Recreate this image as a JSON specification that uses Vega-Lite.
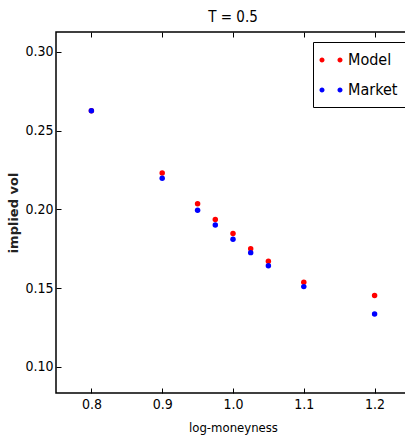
{
  "$schema": "https://vega.github.io/schema/vega-lite/v6.json",
  "autosize": "none",
  "width": 354,
  "height": 361,
  "padding": {"left": 56, "top": 32, "right": 0, "bottom": 46},
  "background": "white",
  "title": {"text": "T = 0.5", "font": "DejaVu Sans Condensed", "fontSize": 15, "fontWeight": "normal", "color": "black", "offset": 7},
  "config": {
    "view": {"stroke": "black", "strokeWidth": 1.5},
    "font": "DejaVu Sans Condensed",
    "axis": {"grid": false, "domain": false, "tickSize": -5, "tickWidth": 1, "tickColor": "black", "labelColor": "black", "titleColor": "black", "labelFont": "DejaVu Sans Condensed", "titleFont": "DejaVu Sans Condensed"}
  },
  "data": {"values": [
    {"x": 0.8, "v": 0.2627, "s": "Model"},
    {"x": 0.9, "v": 0.2231, "s": "Model"},
    {"x": 0.95, "v": 0.2036, "s": "Model"},
    {"x": 0.975, "v": 0.1935, "s": "Model"},
    {"x": 1.0, "v": 0.1846, "s": "Model"},
    {"x": 1.025, "v": 0.1750, "s": "Model"},
    {"x": 1.05, "v": 0.1670, "s": "Model"},
    {"x": 1.1, "v": 0.1537, "s": "Model"},
    {"x": 1.2, "v": 0.1452, "s": "Model"},
    {"x": 0.8, "v": 0.2627, "s": "Market"},
    {"x": 0.9, "v": 0.2197, "s": "Market"},
    {"x": 0.95, "v": 0.1994, "s": "Market"},
    {"x": 0.975, "v": 0.1901, "s": "Market"},
    {"x": 1.0, "v": 0.1810, "s": "Market"},
    {"x": 1.025, "v": 0.1725, "s": "Market"},
    {"x": 1.05, "v": 0.1642, "s": "Market"},
    {"x": 1.1, "v": 0.1509, "s": "Market"},
    {"x": 1.2, "v": 0.1335, "s": "Market"}
  ]},
  "resolve": {"axis": {"x": "independent", "y": "independent"}},
  "layer": [
    {
      "mark": {"type": "circle", "size": 0, "opacity": 0},
      "encoding": {
        "x": {"field": "x", "type": "quantitative", "scale": {"domain": [0.75, 1.25], "nice": false, "zero": false},
          "axis": {"orient": "top", "values": [0.8, 0.9, 1.0, 1.1, 1.2], "labels": false, "title": null}},
        "y": {"field": "v", "type": "quantitative", "scale": {"domain": [0.0833, 0.3127], "nice": false, "zero": false},
          "axis": {"orient": "right", "values": [0.10, 0.15, 0.20, 0.25, 0.30], "labels": false, "title": null}}
      }
    },
    {
      "mark": {"type": "circle", "size": 30, "opacity": 1},
      "encoding": {
        "x": {"field": "x", "type": "quantitative", "scale": {"domain": [0.75, 1.25], "nice": false, "zero": false},
          "axis": {"values": [0.8, 0.9, 1.0, 1.1, 1.2], "format": ".1f", "labelPadding": 9, "labelFontSize": 14, "title": "log-moneyness", "titleFontSize": 13, "titleFontWeight": "normal", "titlePadding": 10}},
        "y": {"field": "v", "type": "quantitative", "scale": {"domain": [0.0833, 0.3127], "nice": false, "zero": false},
          "axis": {"values": [0.10, 0.15, 0.20, 0.25, 0.30], "format": ".2f", "labelPadding": 8, "labelFontSize": 14, "title": "implied vol", "titleFontSize": 13, "titleFontWeight": "bold", "titlePadding": 4, "titleFont": "DejaVu Sans", "titleColor": "#222222"}},
        "color": {"field": "s", "type": "nominal", "scale": {"domain": ["Model", "Market"], "range": ["#ff0000", "#0000ff"]},
          "legend": {"title": null, "orient": "none", "legendX": 257, "legendY": 10, "strokeColor": "black", "fillColor": "white", "padding": 9, "symbolType": "M -1.28 0 A 0.28 0.28 0 1 0 -0.72 0 A 0.28 0.28 0 1 0 -1.28 0 Z M 0.72 0 A 0.28 0.28 0 1 0 1.28 0 A 0.28 0.28 0 1 0 0.72 0 Z", "symbolSize": 324, "symbolStrokeWidth": 0, "labelFontSize": 16, "labelFont": "DejaVu Sans Condensed", "labelColor": "black", "labelOffset": 8, "rowPadding": 13, "symbolOpacity": 1}
        },
        "order": {"field": "s", "sort": "descending"}
      }
    }
  ]
}
